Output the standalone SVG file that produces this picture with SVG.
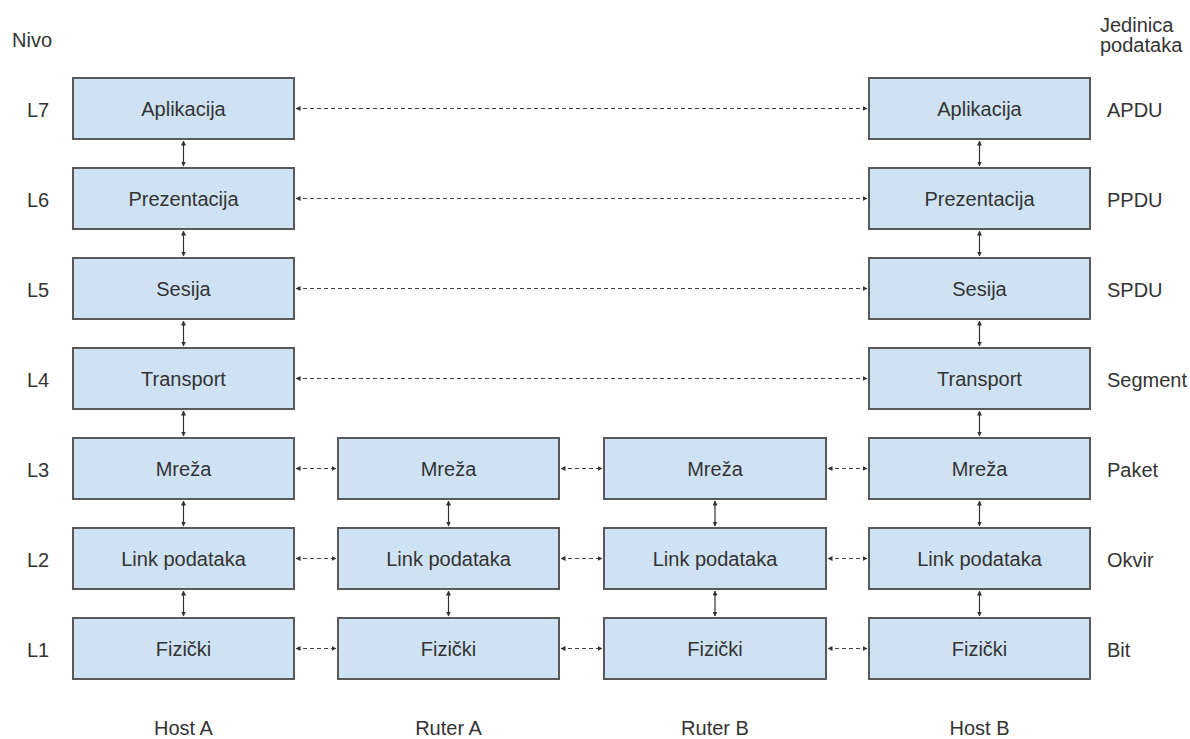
<svg xmlns="http://www.w3.org/2000/svg" width="1190" height="739" viewBox="0 0 1190 739">
<defs>
<style>
.box{fill:#cfe2f3;stroke:#595959;stroke-width:2}
.t{font-family:"Liberation Sans",Arial,sans-serif;font-size:20px;fill:#333}
.c{text-anchor:middle}
.v{stroke:#333;stroke-width:1.2;fill:none}
.h{stroke:#444;stroke-width:1.2;fill:none;stroke-dasharray:4 3}
</style>
<marker id="ah" viewBox="0 0 10 10" refX="9" refY="5" markerWidth="5" markerHeight="5" markerUnits="userSpaceOnUse" orient="auto-start-reverse">
<path d="M0,0 L10,5 L0,10 z" fill="#333"/>
</marker>
</defs>
<rect width="1190" height="739" fill="#fff"/>
<g id="labels">
<text class="t" x="12" y="47">Nivo</text>
<text class="t" x="1100" y="32">Jedinica</text>
<text class="t" x="1100" y="52">podataka</text>
<text class="t" x="27" y="117">L7</text>
<text class="t" x="27" y="207">L6</text>
<text class="t" x="27" y="297">L5</text>
<text class="t" x="27" y="387">L4</text>
<text class="t" x="27" y="477">L3</text>
<text class="t" x="27" y="567">L2</text>
<text class="t" x="27" y="657">L1</text>
<text class="t" x="1107" y="117">APDU</text>
<text class="t" x="1107" y="207">PPDU</text>
<text class="t" x="1107" y="297">SPDU</text>
<text class="t" x="1107" y="387">Segment</text>
<text class="t" x="1107" y="477">Paket</text>
<text class="t" x="1107" y="567">Okvir</text>
<text class="t" x="1107" y="657">Bit</text>
<text class="t c" x="183.5" y="735">Host A</text>
<text class="t c" x="448.5" y="735">Ruter A</text>
<text class="t c" x="715" y="735">Ruter B</text>
<text class="t c" x="979.5" y="735">Host B</text>
</g>
<g id="connectors">
<line class="v" x1="183.5" y1="141" x2="183.5" y2="166" marker-start="url(#ah)" marker-end="url(#ah)"/>
<line class="v" x1="183.5" y1="231" x2="183.5" y2="256" marker-start="url(#ah)" marker-end="url(#ah)"/>
<line class="v" x1="183.5" y1="321" x2="183.5" y2="346" marker-start="url(#ah)" marker-end="url(#ah)"/>
<line class="v" x1="183.5" y1="411" x2="183.5" y2="436" marker-start="url(#ah)" marker-end="url(#ah)"/>
<line class="v" x1="183.5" y1="501" x2="183.5" y2="526" marker-start="url(#ah)" marker-end="url(#ah)"/>
<line class="v" x1="183.5" y1="591" x2="183.5" y2="616" marker-start="url(#ah)" marker-end="url(#ah)"/>
<line class="v" x1="979.5" y1="141" x2="979.5" y2="166" marker-start="url(#ah)" marker-end="url(#ah)"/>
<line class="v" x1="979.5" y1="231" x2="979.5" y2="256" marker-start="url(#ah)" marker-end="url(#ah)"/>
<line class="v" x1="979.5" y1="321" x2="979.5" y2="346" marker-start="url(#ah)" marker-end="url(#ah)"/>
<line class="v" x1="979.5" y1="411" x2="979.5" y2="436" marker-start="url(#ah)" marker-end="url(#ah)"/>
<line class="v" x1="979.5" y1="501" x2="979.5" y2="526" marker-start="url(#ah)" marker-end="url(#ah)"/>
<line class="v" x1="979.5" y1="591" x2="979.5" y2="616" marker-start="url(#ah)" marker-end="url(#ah)"/>
<line class="v" x1="448.5" y1="501" x2="448.5" y2="526" marker-start="url(#ah)" marker-end="url(#ah)"/>
<line class="v" x1="448.5" y1="591" x2="448.5" y2="616" marker-start="url(#ah)" marker-end="url(#ah)"/>
<line class="v" x1="715" y1="501" x2="715" y2="526" marker-start="url(#ah)" marker-end="url(#ah)"/>
<line class="v" x1="715" y1="591" x2="715" y2="616" marker-start="url(#ah)" marker-end="url(#ah)"/>
<line class="h" x1="296" y1="108.5" x2="867" y2="108.5" marker-start="url(#ah)" marker-end="url(#ah)"/>
<line class="h" x1="296" y1="198.5" x2="867" y2="198.5" marker-start="url(#ah)" marker-end="url(#ah)"/>
<line class="h" x1="296" y1="288.5" x2="867" y2="288.5" marker-start="url(#ah)" marker-end="url(#ah)"/>
<line class="h" x1="296" y1="378.5" x2="867" y2="378.5" marker-start="url(#ah)" marker-end="url(#ah)"/>
<line class="h" x1="296" y1="468.5" x2="336" y2="468.5" marker-start="url(#ah)" marker-end="url(#ah)"/>
<line class="h" x1="561" y1="468.5" x2="602" y2="468.5" marker-start="url(#ah)" marker-end="url(#ah)"/>
<line class="h" x1="828" y1="468.5" x2="867" y2="468.5" marker-start="url(#ah)" marker-end="url(#ah)"/>
<line class="h" x1="296" y1="558.5" x2="336" y2="558.5" marker-start="url(#ah)" marker-end="url(#ah)"/>
<line class="h" x1="561" y1="558.5" x2="602" y2="558.5" marker-start="url(#ah)" marker-end="url(#ah)"/>
<line class="h" x1="828" y1="558.5" x2="867" y2="558.5" marker-start="url(#ah)" marker-end="url(#ah)"/>
<line class="h" x1="296" y1="648.5" x2="336" y2="648.5" marker-start="url(#ah)" marker-end="url(#ah)"/>
<line class="h" x1="561" y1="648.5" x2="602" y2="648.5" marker-start="url(#ah)" marker-end="url(#ah)"/>
<line class="h" x1="828" y1="648.5" x2="867" y2="648.5" marker-start="url(#ah)" marker-end="url(#ah)"/>
</g>
<g id="hostA-L7"><rect class="box" x="73" y="78" width="221" height="61"/><text class="t c" x="183.5" y="115.5">Aplikacija</text></g>
<g id="hostA-L6"><rect class="box" x="73" y="168" width="221" height="61"/><text class="t c" x="183.5" y="205.5">Prezentacija</text></g>
<g id="hostA-L5"><rect class="box" x="73" y="258" width="221" height="61"/><text class="t c" x="183.5" y="295.5">Sesija</text></g>
<g id="hostA-L4"><rect class="box" x="73" y="348" width="221" height="61"/><text class="t c" x="183.5" y="385.5">Transport</text></g>
<g id="hostA-L3"><rect class="box" x="73" y="438" width="221" height="61"/><text class="t c" x="183.5" y="475.5">Mreža</text></g>
<g id="hostA-L2"><rect class="box" x="73" y="528" width="221" height="61"/><text class="t c" x="183.5" y="565.5">Link podataka</text></g>
<g id="hostA-L1"><rect class="box" x="73" y="618" width="221" height="61"/><text class="t c" x="183.5" y="655.5">Fizički</text></g>
<g id="ruterA-L3"><rect class="box" x="338" y="438" width="221" height="61"/><text class="t c" x="448.5" y="475.5">Mreža</text></g>
<g id="ruterA-L2"><rect class="box" x="338" y="528" width="221" height="61"/><text class="t c" x="448.5" y="565.5">Link podataka</text></g>
<g id="ruterA-L1"><rect class="box" x="338" y="618" width="221" height="61"/><text class="t c" x="448.5" y="655.5">Fizički</text></g>
<g id="ruterB-L3"><rect class="box" x="604" y="438" width="222" height="61"/><text class="t c" x="715" y="475.5">Mreža</text></g>
<g id="ruterB-L2"><rect class="box" x="604" y="528" width="222" height="61"/><text class="t c" x="715" y="565.5">Link podataka</text></g>
<g id="ruterB-L1"><rect class="box" x="604" y="618" width="222" height="61"/><text class="t c" x="715" y="655.5">Fizički</text></g>
<g id="hostB-L7"><rect class="box" x="869" y="78" width="221" height="61"/><text class="t c" x="979.5" y="115.5">Aplikacija</text></g>
<g id="hostB-L6"><rect class="box" x="869" y="168" width="221" height="61"/><text class="t c" x="979.5" y="205.5">Prezentacija</text></g>
<g id="hostB-L5"><rect class="box" x="869" y="258" width="221" height="61"/><text class="t c" x="979.5" y="295.5">Sesija</text></g>
<g id="hostB-L4"><rect class="box" x="869" y="348" width="221" height="61"/><text class="t c" x="979.5" y="385.5">Transport</text></g>
<g id="hostB-L3"><rect class="box" x="869" y="438" width="221" height="61"/><text class="t c" x="979.5" y="475.5">Mreža</text></g>
<g id="hostB-L2"><rect class="box" x="869" y="528" width="221" height="61"/><text class="t c" x="979.5" y="565.5">Link podataka</text></g>
<g id="hostB-L1"><rect class="box" x="869" y="618" width="221" height="61"/><text class="t c" x="979.5" y="655.5">Fizički</text></g>
</svg>
